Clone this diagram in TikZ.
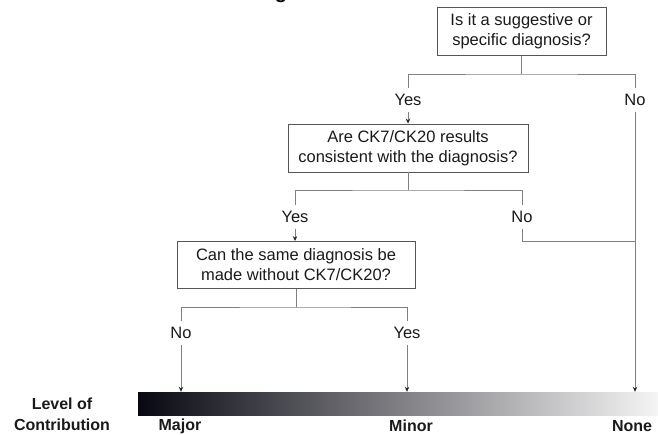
\documentclass[tikz,border=0pt]{standalone}
\usepackage{fontspec}
\setmainfont{Liberation Sans}
\usetikzlibrary{arrows.meta}
\definecolor{txt}{HTML}{1A1A1A}
\definecolor{boxline}{HTML}{555555}
\definecolor{conn}{HTML}{808080}
\definecolor{barL}{RGB}{8,8,18}
\definecolor{barM}{RGB}{88,87,95}
\definecolor{barR}{RGB}{245,245,245}
\tikzset{
  qbox/.style={draw=boxline, line width=0.9pt, align=center, text=txt,
    font=\fontsize{16.5}{20}\selectfont, inner sep=0pt},
  ans/.style={text=txt, font=\fontsize{16.5}{20}\selectfont, inner xsep=2pt, inner ysep=6pt},
  conline/.style={draw=conn, line width=0.9pt},
  arr/.style={conline, -{Stealth[length=5pt,width=4.5pt,color=black!85]}},
  bold/.style={text=txt, font=\bfseries\fontsize{16}{19}\selectfont, align=center},
  levelbar/.style={draw=none, inner sep=0pt, minimum width=520pt, minimum height=23pt,
    left color=barL, middle color=barM, right color=barR}
}
\begin{document}
\begin{tikzpicture}[x=1pt,y=-1pt]
\useasboundingbox (0,0) rectangle (658,435);
% title, cut off at the top edge
\node[anchor=base west, text=black, font=\bfseries\fontsize{20}{24}\selectfont, inner sep=0pt] (title) at (257,-1.5) {Figure 1};
% questions
\node[qbox, minimum width=169pt, minimum height=48pt] (q1) at (521.5,31.5) {Is it a suggestive or\\specific diagnosis?};
\node[qbox, minimum width=240pt, minimum height=48pt] (q2) at (408,148) {Are CK7/CK20 results\\consistent with the diagnosis?};
\node[qbox, minimum width=238pt, minimum height=47pt] (q3) at (296,265) {Can the same diagnosis be\\made without CK7/CK20?};
% answers
\node[ans] (y1) at (408,100) {Yes};
\node[ans] (n1) at (635,100) {No};
\node[ans] (y2) at (295,217) {Yes};
\node[ans] (n2) at (522,217) {No};
\node[ans] (n3) at (181,333) {No};
\node[ans] (y3) at (407,333) {Yes};
% level bar
\node[levelbar] (bar) at (398,403.5) {};
\node[bold] (lvl) at (62,414) {Level of\\[2pt]Contribution};
\node[bold] (major) at (180,426) {Major};
\node[bold] (minor) at (411,426) {Minor};
\node[bold] (none) at (632,426) {None};
% junctions
\draw[conline] (q1.south) -- (q1.south |- 0,74) coordinate (j1);
\draw[conline] (y1.north) |- (j1) -| (n1.north);
\draw[conline] (q2.south) -- (q2.south |- 0,190) coordinate (j2);
\draw[conline] (y2.north) |- (j2) -| (n2.north);
\draw[conline] (q3.south) -- (q3.south |- 0,307) coordinate (j3);
\draw[conline] (n3.north) |- (j3) -| (y3.north);
% arrows
\draw[arr] (y1.south) -- (q2.north -| y1.south);
\draw[arr] (y2.south) -- (q3.north -| y2.south);
\draw[conline] (n2.south) |- (n1.south |- q3.north) coordinate (jn);
\draw[arr] (n1.south) -- (n1.south |- bar.north);
\draw[arr] (n3.south) -- (n3.south |- bar.north);
\draw[arr] (y3.south) -- (y3.south |- bar.north);
\end{tikzpicture}
\end{document}
